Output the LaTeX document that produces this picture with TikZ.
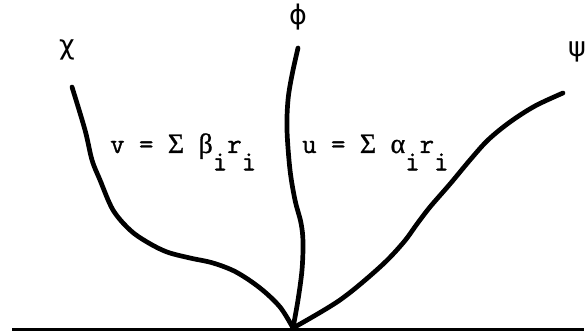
\documentclass[tikz,border=0pt]{standalone}
\usepackage{fontspec}
\newfontfamily\greekfont{DejaVu Sans}
\newfontfamily\greekserif[FakeBold=0.8]{Liberation Serif}
\newfontfamily\typerfont[FakeBold=1.2]{Latin Modern Mono}
\usetikzlibrary{positioning}
\tikzset{
  branch/.style={line width=4.7pt, line cap=round, line join=round},
  ground/.style={line width=3pt},
  fieldlabel/.style={font=\greekfont\fontsize{27}{27}\selectfont, inner sep=0pt},
  sumlabel/.style={font=\typerfont\fontsize{28}{28}\selectfont, anchor=base west, inner sep=0pt},
}
\newcommand{\lowsub}[1]{\raisebox{-0.62em}{#1}}
\newcommand{\gk}[1]{{\greekserif #1}}

\begin{document}
\begin{tikzpicture}[x=1pt, y=-1pt]
    \useasboundingbox (0,0) rectangle (586,331);
    % ground line and meeting point
    \coordinate (groundL) at (12,329);
    \coordinate (groundR) at (584,329);
    \coordinate (root) at (293,328);
    \draw[ground] (groundL) -- (groundR);
    % field labels
    \node[fieldlabel] (chi) at (67,50) {χ};
    \node[fieldlabel] (phi) at (298,17) {ϕ};
    \node[fieldlabel] (psi) at (577,52) {ψ};
    % chi branch
    \draw[branch] plot[smooth, tension=0.55] coordinates {
      (72,87) (85,130) (92,160) (100,180) (113,210) (130,230)
      (147,242) (167,252) (190,258) (213,263) (236,272) (260,288)
      (280,307) (root)};
    % phi branch
    \draw[branch] plot[smooth, tension=0.55] coordinates {
      (298,48) (292,75) (288,100) (287,130) (290,170) (295,200)
      (301,223) (303,242) (302,270) (298,300) (root)};
    % psi branch
    \draw[branch] plot[smooth, tension=0.55] coordinates {
      (563,93) (535,106) (510,122) (488,140) (470,160) (450,184)
      (430,207) (417,224) (403,243) (380,267) (340,300) (root)};
    % expansions
    \node[sumlabel] (vsum) at (110,153)
      {v = \gk{Σ} \gk{β}\lowsub{i}r\lowsub{i}};
    \node[sumlabel] (usum) at (302,153)
      {u = \gk{Σ} \gk{α}\lowsub{i}r\lowsub{i}};
\end{tikzpicture}
\end{document}
